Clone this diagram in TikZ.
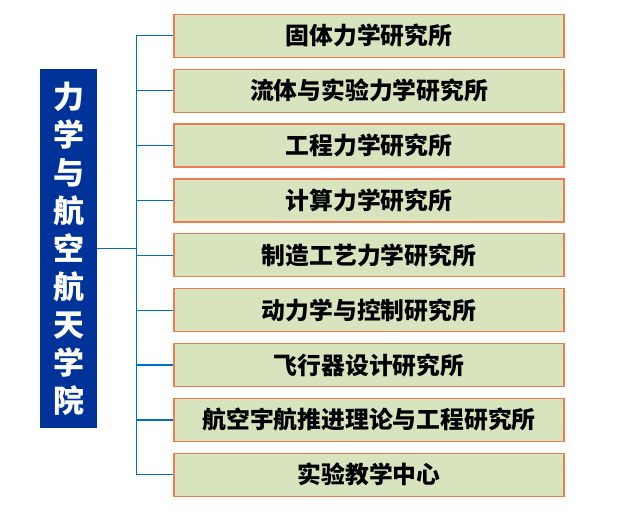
\documentclass[tikz,border=0pt]{standalone}
\usepackage{fontspec}
\usepackage{tikz}
\newfontfamily\cjk{Noto Sans CJK SC}
\definecolor{schoolblue}{RGB}{0,51,153}
\definecolor{unitfill}{RGB}{215,228,189}
\definecolor{unitline}{RGB}{237,125,80}
\definecolor{linkblue}{RGB}{0,112,192}
\tikzset{
  school/.style={fill=schoolblue, text=white, minimum width=57pt, minimum height=359pt,
    inner sep=0pt, align=center, font=\cjk\bfseries\fontsize{31}{38}\selectfont},
  unit/.style={draw=unitline, fill=unitfill, line width=1.3pt, minimum width=390pt,
    minimum height=43pt, inner sep=0pt, font=\cjk\bfseries\fontsize{23.8}{26}\selectfont},
  link/.style={draw=linkblue, line width=1.3pt}
}
\begin{document}
\begin{tikzpicture}[x=1pt,y=-1pt]
  \useasboundingbox (0,0) rectangle (620,514);
  \node [school] (school) at (68.5,248.5) {力\\学\\与\\航\\空\\航\\天\\学\\院};
  \foreach \i/\name in {1/固体力学研究所, 2/流体与实验力学研究所, 3/工程力学研究所,
      4/计算力学研究所, 5/制造工艺力学研究所, 6/动力学与控制研究所,
      7/飞行器设计研究所, 8/航空宇航推进理论与工程研究所, 9/实验教学中心}
    \node [unit] (u\i) at (369,{35.8+54.875*(\i-1)}) {\name};
  % trunk and branches
  \draw [link] (school.east) -- ++(39,0) coordinate (fork);
  \draw [link] (fork |- u1.west) -- (fork |- u9.west);
  \foreach \i in {1,...,9}
    \draw [link] (fork |- u\i.west) -- (u\i.west);
\end{tikzpicture}
\end{document}
